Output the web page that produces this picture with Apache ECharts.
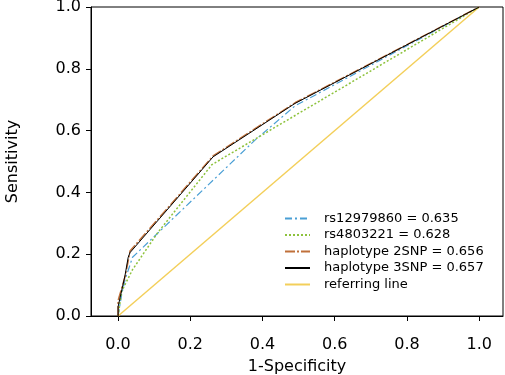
<!DOCTYPE html>
<html>
<head>
<meta charset="utf-8">
<script src="https://cdn.jsdelivr.net/npm/echarts@6/dist/echarts.min.js"></script>
<style>
  html, body { margin: 0; padding: 0; background: #fff; }
  #main { width: 505px; height: 375px; }
</style>
</head>
<body>
<div id="main"></div>
<script>
// ROC 曲线数据 [1-特异度, 灵敏度]
const rs12979860 = [[0, 0], [0.01, 0.07], [0.02, 0.12], [0.04, 0.19], [0.38, 0.57], [0.49, 0.68], [1, 1]];
const rs4803221 = [[0, 0], [0.01, 0.08], [0.04, 0.15], [0.11, 0.27], [0.26, 0.49], [0.47, 0.635], [1, 1]];
const hap2SNP = [[0, 0], [0, 0.05], [0.02, 0.13], [0.03, 0.19], [0.033, 0.21], [0.263, 0.518], [0.49, 0.69], [1, 1]];
const hap3SNP = [[0, 0], [0, 0.03], [0.019, 0.13], [0.028, 0.19], [0.033, 0.205], [0.263, 0.515], [0.49, 0.688], [1, 1]];
const refLine = [[0, 0], [1, 1]];

const seriesNames = ["rs12979860 = 0.635", "rs4803221 = 0.628", "haplotype 2SNP = 0.656", "haplotype 3SNP = 0.657", "referring line"];
const xTicks = [0, 0.2, 0.4, 0.6, 0.8, 1.0];

const font = "DejaVu Sans";

const chart = echarts.init(document.getElementById("main"));

const options = {
  animation: false,
  grid: {
    left: 91,
    top: 7,
    right: 2,
    bottom: 59,
    containLabel: false,
    outerBoundsMode: "none",
    show: true,
    borderColor: "#000",
    borderWidth: 1,
  },
  legend: {
    orient: "vertical",
    left: 279,
    top: 207,
    itemWidth: 25,
    itemHeight: 14,
    itemGap: 3.5,
    data: seriesNames,
    itemStyle: { opacity: 0 },
    formatter: (name) => "{t|" + name + "}",
    textStyle: {
      fontFamily: font,
      fontSize: 13,
      color: "#000",
      rich: {
        t: { fontFamily: font, fontSize: 13, color: "#000", padding: [0, 0, 0, 9] },
      },
    },
  },
  xAxis: {
    type: "value",
    min: -0.075,
    max: 1.066,
    name: "1-Specificity",
    nameLocation: "middle",
    nameGap: 43,
    nameTextStyle: { fontFamily: font, fontSize: 16, color: "#000" },
    axisLine: { onZero: false, lineStyle: { color: "#000" } },
    axisTick: { show: true, length: 5, customValues: xTicks, lineStyle: { color: "#000" } },
    axisLabel: {
      customValues: xTicks,
      margin: 21,
      fontFamily: font,
      fontSize: 16,
      color: "#000",
      formatter: (v) => v.toFixed(1),
    },
    splitLine: { show: false },
  },
  yAxis: {
    type: "value",
    min: 0,
    max: 1,
    interval: 0.2,
    name: "Sensitivity",
    nameLocation: "middle",
    nameGap: 70,
    nameRotate: 90,
    nameTextStyle: { fontFamily: font, fontSize: 16, color: "#000" },
    axisLine: { show: true, onZero: false, lineStyle: { color: "#000" } },
    axisTick: { show: true, length: 5, lineStyle: { color: "#000" } },
    axisLabel: {
      margin: 10,
      fontFamily: font,
      fontSize: 16,
      color: "#000",
      formatter: (v) => v.toFixed(1),
    },
    splitLine: { show: false },
  },
  series: [
    {
      name: seriesNames[4],
      type: "line",
      data: refLine,
      symbol: "none",
      itemStyle: { color: "#f3cf5a" },
      lineStyle: { color: "#f3cf5a", width: 1.5, type: "solid" },
    },
    {
      name: seriesNames[0],
      type: "line",
      data: rs12979860,
      symbol: "none",
      itemStyle: { color: "#4a9fd5" },
      lineStyle: { color: "#4a9fd5", width: 1.2, type: [7, 3, 2, 3] },
    },
    {
      name: seriesNames[1],
      type: "line",
      data: rs4803221,
      symbol: "none",
      itemStyle: { color: "#8dc23c" },
      lineStyle: { color: "#8dc23c", width: 1.5, type: [2, 2] },
    },
    {
      name: seriesNames[2],
      type: "line",
      data: hap2SNP,
      symbol: "none",
      itemStyle: { color: "#c0703a" },
      lineStyle: { color: "#c0703a", width: 1.5, type: [10, 2, 2, 2] },
    },
    {
      name: seriesNames[3],
      type: "line",
      data: hap3SNP,
      symbol: "none",
      itemStyle: { color: "#000" },
      lineStyle: { color: "#000", width: 1, type: "solid" },
    },
  ],
};

chart.setOption(options);

window.addEventListener("resize", () => {
  chart.resize();
});
</script>
</body>
</html>
